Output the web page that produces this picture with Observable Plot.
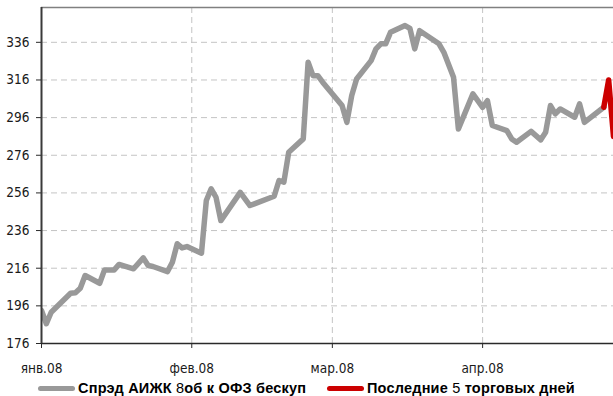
<!DOCTYPE html>
<html>
<head>
<meta charset="utf-8">
<script src="https://cdn.jsdelivr.net/npm/d3@7"></script>
<script src="https://cdn.jsdelivr.net/npm/@observablehq/plot@0.6"></script>
<style>
  html, body { margin: 0; padding: 0; background: #fff; overflow: hidden; }
  #chart svg { display: block; }
  .legend { position: relative; height: 15px; margin-top: 0px; font-family: "Liberation Sans", Arial, sans-serif; font-size: 14.5px; font-weight: bold; color: #000; line-height: 15px; white-space: nowrap; letter-spacing: 0.2px; }
  .legend .sw { position: absolute; top: 5px; width: 37px; height: 5px; border-radius: 2.5px; }
  .legend .tx { position: absolute; top: 0; }
  .legend .n { font-weight: normal; }
</style>
</head>
<body>
<div id="chart"></div>
<div class="legend">
  <span class="sw" style="left:38px;background:#999999"></span>
  <span class="tx" style="left:78px">Спрэд АИЖК <span class="n">8</span>об к ОФЗ бескуп</span>
  <span class="sw" style="left:327px;background:#cc0000"></span>
  <span class="tx" style="left:367px">Последние <span class="n">5</span> торговых дней</span>
</div>
<script>
// Spread series (gray)
const spreadDates = [
  "2008-01-01","2008-01-02","2008-01-03","2008-01-07","2008-01-08","2008-01-09","2008-01-10",
  "2008-01-13","2008-01-14","2008-01-16","2008-01-17","2008-01-20","2008-01-22","2008-01-23",
  "2008-01-24","2008-01-27","2008-01-28","2008-01-29","2008-01-30","2008-01-31",
  "2008-02-03","2008-02-04","2008-02-05","2008-02-06","2008-02-07","2008-02-11","2008-02-13",
  "2008-02-18","2008-02-19","2008-02-20","2008-02-21","2008-02-24","2008-02-25","2008-02-26",
  "2008-02-27","2008-02-28",
  "2008-03-03","2008-03-04","2008-03-05","2008-03-06","2008-03-09","2008-03-10","2008-03-11",
  "2008-03-12","2008-03-13","2008-03-16","2008-03-17","2008-03-18","2008-03-19","2008-03-23",
  "2008-03-24","2008-03-26","2008-03-27","2008-03-30",
  "2008-04-01","2008-04-02","2008-04-03","2008-04-06","2008-04-07","2008-04-08","2008-04-11",
  "2008-04-13","2008-04-14","2008-04-15","2008-04-16","2008-04-17","2008-04-20","2008-04-21",
  "2008-04-22","2008-04-26"
];
const spreadValues = [
  193.5,186.5,192.6,202.7,203,205.4,212.1,
  208,215.1,215.1,218,215.7,221.5,217.4,
  216.9,214.2,219.2,229,226.8,227.5,
  224,252,258.2,253.7,241.3,256.3,249.3,
  254.2,262.6,261.7,277.6,284.7,325.4,318.3,
  318.3,314.8,
  302.4,293.5,307.7,316.5,326.3,332.5,335.2,
  335.2,341.3,344.9,343.4,332.5,342.2,335.2,
  330.7,317.4,290,308.6,
  301.5,305,291.8,289.1,284.7,282.9,288.7,
  284.2,288.2,302.4,298,300.6,296.2,303.3,
  293.5,301.5
];
// Last 5 trading days (red)
const lastDates = ["2008-04-26","2008-04-27","2008-04-28"];
const lastValues = [301.5,316,286];

// Axis ticks
const yTicks = [176,196,216,236,256,276,296,316,336];
const monthTicks = ["2008-01-01","2008-02-01","2008-03-01","2008-04-01"];
const monthLabels = ["янв.08","фев.08","мар.08","апр.08"];

const parse = d3.utcParse("%Y-%m-%d");
const spread = spreadDates.map((d,i) => ({date: parse(d), value: spreadValues[i]}));
const last = lastDates.map((d,i) => ({date: parse(d), value: lastValues[i]}));
const months = monthTicks.map(parse);
const xMin = parse("2008-01-01"), xMax = parse("2008-04-28");
const yMin = 176, yMax = 354.5;

const chart = Plot.plot({
  width: 613,
  height: 381,
  marginLeft: 41,
  marginRight: 0,
  marginTop: 7,
  marginBottom: 38,
  style: {fontFamily: "'Liberation Sans Narrow', 'Arial Narrow', 'DejaVu Sans Condensed', sans-serif", fontSize: "13.5px", color: "#1a1a1a", background: "#fff"},
  x: {type: "utc", domain: [xMin, xMax]},
  y: {domain: [yMin, yMax]},
  marks: [
    Plot.gridY(yTicks.slice(1), {stroke: "#c4c4c4", strokeOpacity: 1, strokeDasharray: "6,4", strokeWidth: 1}),
    Plot.gridX(months.slice(1), {stroke: "#c4c4c4", strokeOpacity: 1, strokeDasharray: "6,4", strokeWidth: 1}),
    Plot.ruleY([yMax], {stroke: "#808080", strokeWidth: 1.5}),
    Plot.lineY(spread, {x: "date", y: "value", stroke: "#999999", strokeWidth: 5.5, strokeLinejoin: "round", clip: true}),
    Plot.lineY(last, {x: "date", y: "value", stroke: "#cc0000", strokeWidth: 5.5, strokeLinejoin: "round", clip: true}),
    Plot.ruleY([yMin], {stroke: "#2a2a2a", strokeWidth: 1.5}),
    Plot.ruleX([xMin], {stroke: "#3a3a3a", strokeWidth: 2}),
    Plot.axisY(yTicks, {tickSize: 5, tickPadding: 7, tickFormat: d => String(d), stroke: "#2a2a2a", label: null}),
    Plot.axisX(months, {tickSize: 5, tickPadding: 15, tickFormat: (d, i) => monthLabels[i], stroke: "#2a2a2a", label: null})
  ]
});
document.getElementById("chart").appendChild(chart);
</script>
</body>
</html>
